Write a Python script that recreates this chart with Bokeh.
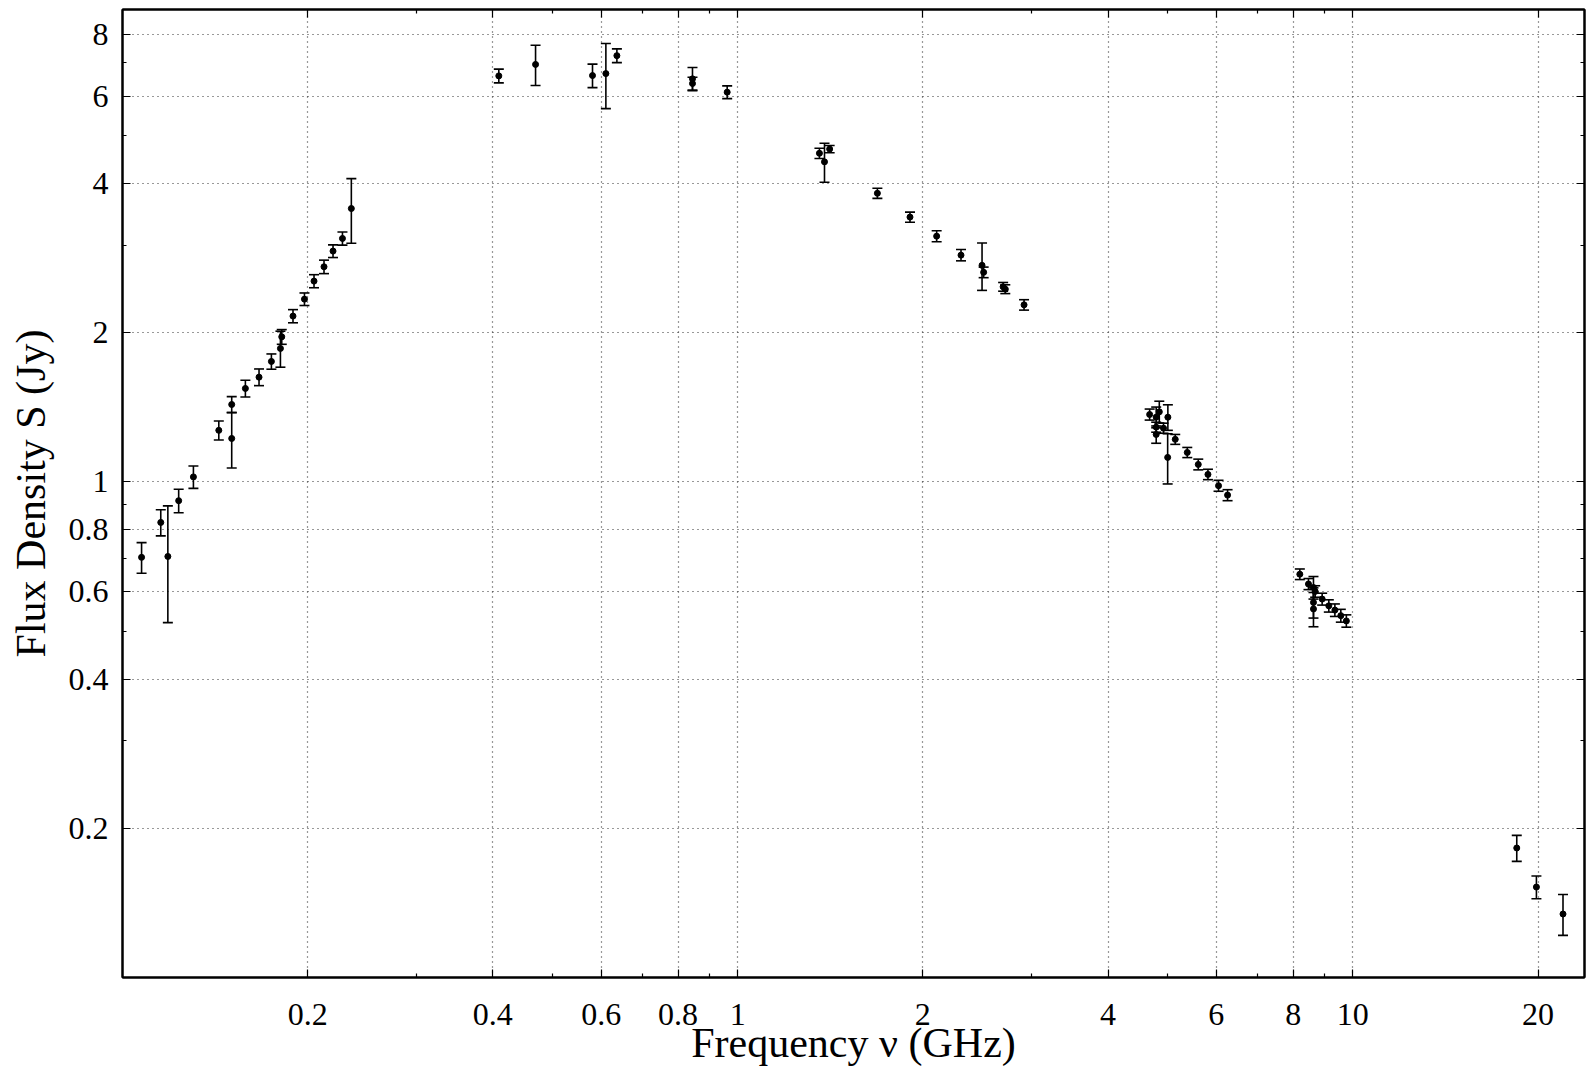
from bokeh.plotting import figure
from bokeh.models import (ColumnDataSource, Whisker, TeeHead, FixedTicker, LogAxis,
                          Range1d, CustomJSTickFormatter)
from bokeh.embed import file_html
from bokeh.resources import INLINE

# ---- data (GHz, Jy, Jy) ----
freq = [0.1074, 0.1154, 0.1185, 0.1234, 0.1304, 0.1434, 0.1505, 0.1505, 0.1584, 0.1667,
        0.1746, 0.1806, 0.1815, 0.1893, 0.1976, 0.2048, 0.2126, 0.2199, 0.2278, 0.2355,
        0.409, 0.4693, 0.5808, 0.6106, 0.6363, 0.8444, 0.8444, 0.9615,
        1.358, 1.384, 1.411, 1.687, 1.906, 2.106, 2.307, 2.496, 2.511, 2.701, 2.723, 2.921,
        4.674, 4.79, 4.846, 4.79, 4.79, 4.923, 5.004, 5.0, 5.144, 5.381, 5.607, 5.814,
        6.049, 6.257,
        8.20, 8.47, 8.63, 8.685, 8.63, 8.63, 8.915, 9.14, 9.35, 9.56, 9.76,
        18.47, 19.88, 21.96]
flux = [0.704, 0.828, 0.707, 0.916, 1.023, 1.270, 1.223, 1.432, 1.543, 1.626,
        1.749, 1.858, 1.961, 2.159, 2.336, 2.540, 2.715, 2.920, 3.097, 3.559,
        6.59, 6.95, 6.60, 6.66, 7.24, 6.50, 6.36, 6.11,
        4.60, 4.42, 4.69, 3.82, 3.42, 3.13, 2.866, 2.733, 2.646, 2.474, 2.447, 2.275,
        1.367, 1.35, 1.384, 1.289, 1.246, 1.283, 1.35, 1.12, 1.218, 1.146, 1.084, 1.035,
        0.982, 0.940,
        0.651, 0.622, 0.612, 0.601, 0.571, 0.554, 0.580, 0.562, 0.551, 0.537, 0.524,
        0.1825, 0.1522, 0.1343]
err = [0.050, 0.050, 0.187, 0.050, 0.053, 0.056, 0.157, 0.053, 0.060, 0.063,
       0.062, 0.155, 0.067, 0.066, 0.068, 0.077, 0.085, 0.086, 0.095, 0.53,
       0.21, 0.65, 0.36, 1.0, 0.23, 0.35, 0.19, 0.18,
       0.11, 0.40, 0.08, 0.09, 0.08, 0.08, 0.075, 0.30, 0.065, 0.05, 0.05, 0.055,
       0.035, 0.065, 0.07, 0.03, 0.05, 0.03, 0.08, 0.13, 0.028, 0.027, 0.027, 0.025,
       0.025, 0.024,
       0.016, 0.016, 0.032, 0.016, 0.04, 0.044, 0.016, 0.016, 0.016, 0.016, 0.015,
       0.011, 0.008, 0.0127]

x_major = [0.2, 0.4, 0.6, 0.8, 1, 2, 4, 6, 8, 10, 20]
x_minor = [0.3, 0.5, 0.7, 0.9, 3, 5, 7, 9]
y_major = [0.2, 0.4, 0.6, 0.8, 1, 2, 4, 6, 8]
y_minor = [0.3, 0.5, 0.7, 0.9, 3, 5, 7, 9]

x_label = "Frequency ν (GHz)"
y_label = "Flux Density S (Jy)"

FONT = "Liberation Serif"

src = ColumnDataSource(dict(
    x=freq, y=flux,
    upper=[f + e for f, e in zip(flux, err)],
    lower=[f - e for f, e in zip(flux, err)],
))

p = figure(width=1589, height=1070, x_axis_type="log", y_axis_type="log",
           x_range=Range1d(0.1, 23.8), y_range=Range1d(0.1, 8.97),
           output_backend="svg", toolbar_location=None,
           min_border_left=122, min_border_right=5, min_border_top=9, min_border_bottom=93)
p.background_fill_color = "white"
p.border_fill_color = "white"
p.outline_line_color = "black"
p.outline_line_width = 2

fmt = CustomJSTickFormatter(code="return String(tick);")
blank = CustomJSTickFormatter(code="return '';")

for ax, major, minor in ((p.xaxis[0], x_major, x_minor), (p.yaxis[0], y_major, y_minor)):
    ax.ticker = FixedTicker(ticks=major, minor_ticks=minor)
    ax.formatter = fmt
    ax.major_tick_in = 8
    ax.major_tick_out = 0
    ax.minor_tick_in = 4
    ax.minor_tick_out = 0
    ax.major_tick_line_color = "black"
    ax.minor_tick_line_color = "black"
    ax.major_tick_line_width = 1.2
    ax.minor_tick_line_width = 1.2
    ax.axis_line_color = "black"
    ax.axis_line_width = 2
    ax.major_label_text_font = FONT
    ax.major_label_text_font_size = "32px"
    ax.major_label_text_color = "black"
    ax.axis_label_text_font = FONT
    ax.axis_label_text_font_size = "42px"
    ax.axis_label_text_font_style = "normal"
    ax.axis_label_text_color = "black"

p.xaxis.axis_label = x_label
p.yaxis.axis_label = y_label
p.xaxis.major_label_standoff = 26
p.yaxis.major_label_standoff = 14
p.xaxis.axis_label_standoff = -8
p.yaxis.axis_label_standoff = 12

for loc, major, minor in (("above", x_major, x_minor), ("right", y_major, y_minor)):
    a = LogAxis(ticker=FixedTicker(ticks=major, minor_ticks=minor), formatter=blank,
                major_tick_in=8, major_tick_out=0, minor_tick_in=4, minor_tick_out=0,
                major_label_standoff=0, major_label_text_font_size="1px",
                axis_line_color="black", axis_line_width=2,
                major_tick_line_color="black", minor_tick_line_color="black",
                major_tick_line_width=1.2, minor_tick_line_width=1.2)
    p.add_layout(a, loc)

for g in (p.xgrid[0], p.ygrid[0]):
    g.grid_line_color = "#333333"
    g.grid_line_width = 1.2
    g.grid_line_dash = "1 4"

w = Whisker(source=src, base="x", upper="upper", lower="lower", dimension="height",
            line_color="black", line_width=1.6,
            upper_head=TeeHead(size=10, line_color="black", line_width=1.6),
            lower_head=TeeHead(size=10, line_color="black", line_width=1.6))
p.add_layout(w)
p.scatter("x", "y", source=src, size=6, fill_color="black", line_color="black")

open("out.html", "w").write(file_html(p, INLINE))
